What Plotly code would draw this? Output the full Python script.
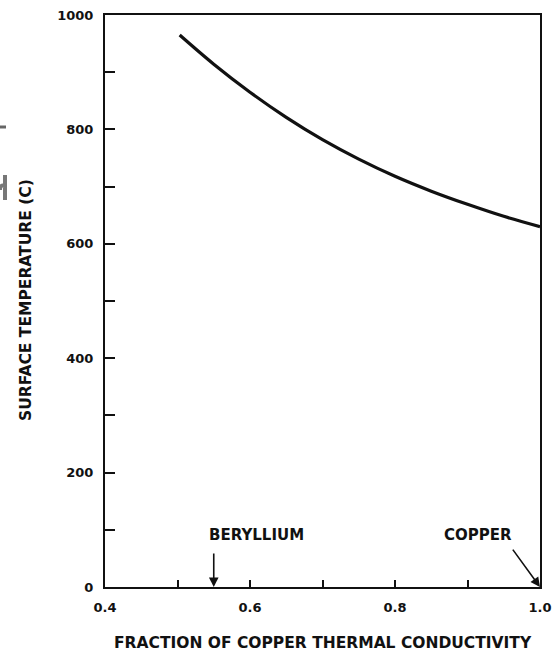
import plotly.graph_objects as go

# Data
fraction = [0.503, 0.55, 0.60, 0.65, 0.70, 0.75, 0.80, 0.85, 0.90, 0.95, 1.00]
surface_temp = [965, 914, 865, 821, 782, 748, 718, 692, 669, 648, 630]

x_tickvals = [0.4, 0.5, 0.6, 0.7, 0.8, 0.9, 1.0]
x_ticktext = ["0.4", "", "0.6", "", "0.8", "", "1.0"]
y_tickvals = [0, 100, 200, 300, 400, 500, 600, 700, 800, 900, 1000]
y_ticktext = ["0", "", "200", "", "400", "", "600", "", "800", "", "1000"]

x_title = "FRACTION OF COPPER THERMAL CONDUCTIVITY"
y_title = "SURFACE TEMPERATURE (C)"

beryllium_x = 0.55
copper_x = 1.0

FONT = "DejaVu Sans"
INK = "#111111"

L, R, T, B = 105, 14, 15, 66
W, H = 554, 653


def px(xp):
    return (xp - L) / (W - L - R)


def py(yp):
    return (H - B - yp) / (H - T - B)


fig = go.Figure()
fig.add_trace(go.Scatter(
    x=fraction, y=surface_temp, mode="lines",
    line=dict(color=INK, width=3.2, shape="spline", smoothing=1.0),
    showlegend=False, hoverinfo="skip",
))

fig.update_layout(
    width=W, height=H,
    margin=dict(l=L, r=R, t=T, b=B, autoexpand=False),
    paper_bgcolor="white", plot_bgcolor="white",
    font=dict(family=FONT, color=INK),
    xaxis=dict(
        range=[0.4, 1.0], tickvals=x_tickvals, ticktext=x_ticktext,
        ticks="inside", ticklen=7, tickwidth=1.8, tickcolor=INK,
        showline=True, linewidth=2, linecolor=INK, mirror=True,
        showgrid=False, zeroline=False, ticklabelstandoff=7,
        automargin=False,
        tickfont=dict(family=FONT, size=13, color=INK, weight="bold"),
    ),
    yaxis=dict(
        range=[0, 1000], tickvals=y_tickvals, ticktext=y_ticktext,
        ticks="inside", ticklen=10, tickwidth=1.8, tickcolor=INK,
        showline=True, linewidth=2, linecolor=INK, mirror=True,
        showgrid=False, zeroline=False, ticklabelstandoff=7,
        automargin=False,
        tickfont=dict(family=FONT, size=13, color=INK, weight="bold"),
    ),
)

# axis titles
fig.add_annotation(xref="paper", yref="paper", x=px(323), y=py(643),
                   xanchor="center", yanchor="middle",
                   text=x_title, showarrow=False,
                   font=dict(family=FONT, size=15.5, color=INK, weight="bold"))
fig.add_annotation(xref="paper", yref="paper", x=px(26), y=py(300),
                   xanchor="center", yanchor="middle",
                   text=y_title, showarrow=False, textangle=-90,
                   font=dict(family=FONT, size=15.5, color=INK, weight="bold"))

fig.add_annotation(
    x=beryllium_x, y=0, xref="x", yref="y",
    ax=beryllium_x, ay=61, axref="x", ayref="y",
    showarrow=True, arrowhead=2, arrowsize=1.2, arrowwidth=1.6, arrowcolor=INK,
    text="",
)
fig.add_annotation(
    x=0.609, y=91, xref="x", yref="y", text="BERYLLIUM", showarrow=False,
    font=dict(family=FONT, size=15, color=INK, weight="bold"),
)
fig.add_annotation(
    x=copper_x, y=0, xref="x", yref="y",
    ax=0.961, ay=68, axref="x", ayref="y",
    showarrow=True, arrowhead=2, arrowsize=1.2, arrowwidth=1.6, arrowcolor=INK,
    text="",
)
fig.add_annotation(
    x=0.9145, y=91, xref="x", yref="y", text="COPPER", showarrow=False,
    font=dict(family=FONT, size=15, color=INK, weight="bold"),
)

# scan artifacts on the left edge (drawn as plain marks)
fig.add_shape(type="line", xref="paper", yref="paper",
              x0=px(0), x1=px(6), y0=py(127), y1=py(127),
              line=dict(color="#666666", width=3))
fig.add_shape(type="path", xref="paper", yref="paper",
              path=(f"M {px(5)},{py(175)} L {px(5)},{py(200)} "
                    f"M {px(5)},{py(186)} Q {px(0)},{py(184)} {px(0)},{py(190)}"),
              line=dict(color="#777777", width=4))

fig.write_html("out.html")
